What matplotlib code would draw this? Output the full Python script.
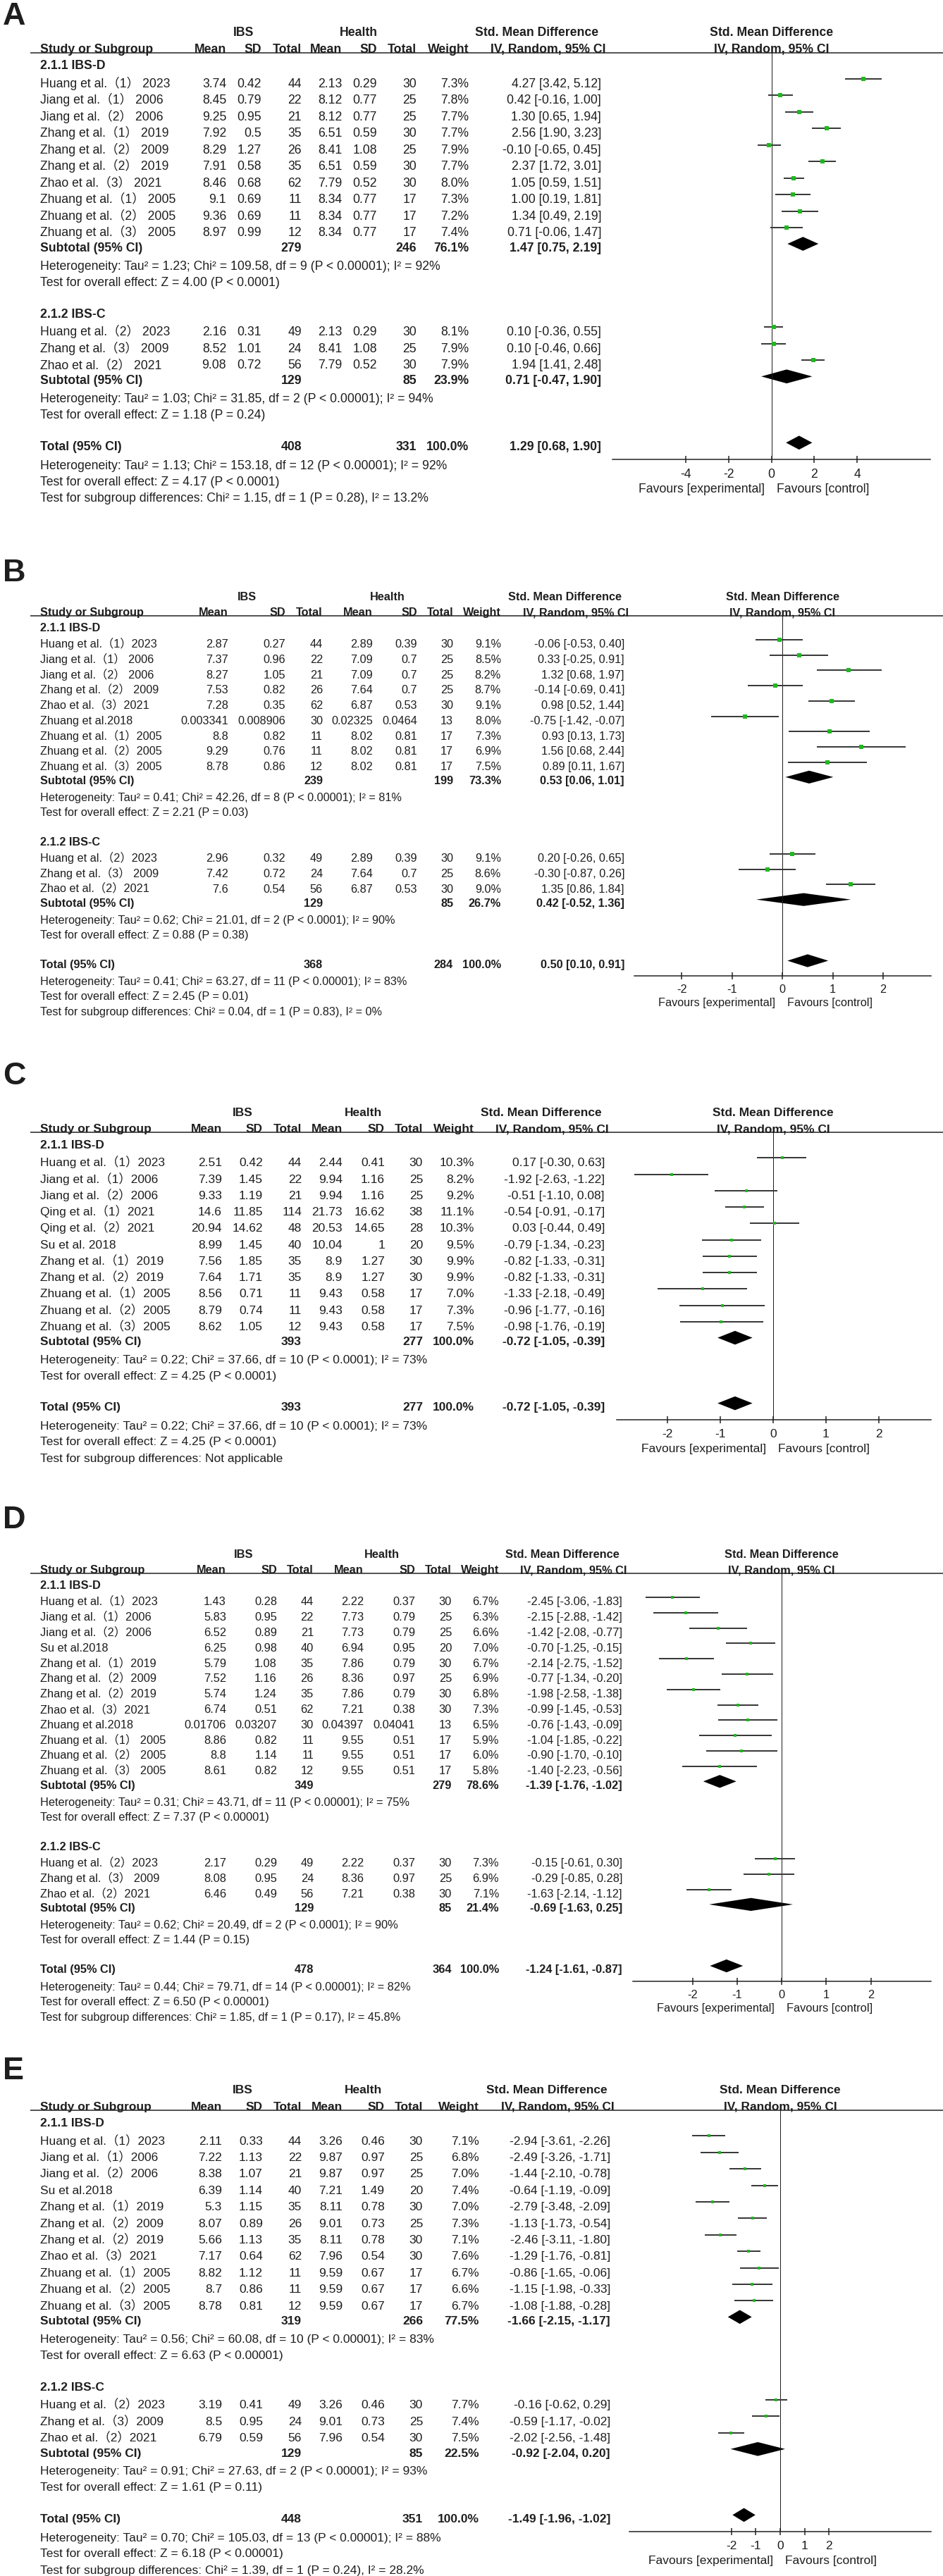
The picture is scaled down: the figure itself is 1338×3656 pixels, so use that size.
import matplotlib
matplotlib.use('Agg')
import matplotlib.pyplot as plt

# Liberation Sans has Arial's metrics; the CJK family supplies the full-width brackets
plt.rcParams['font.family'] = ['Liberation Sans', 'Noto Sans CJK SC', 'DejaVu Sans']

W, H = 1338, 3656
PT = 0.72            # points per pixel at dpi 100
INK = '#1e1e1e'
GREEN = '#20b820'

# ------------------- Panel A ------------------- #
A_study = ["Huang et al.（1） 2023", "Jiang et al.（1） 2006", "Jiang et al.（2） 2006",
           "Zhang et al.（1） 2019", "Zhang et al.（2） 2009", "Zhang et al.（2） 2019",
           "Zhao et al.（3） 2021", "Zhuang et al.（1） 2005", "Zhuang et al.（2） 2005",
           "Zhuang et al.（3） 2005",
           "Huang et al.（2） 2023", "Zhang et al.（3） 2009", "Zhao et al.（2） 2021"]
A_ibs_mean = [3.74, 8.45, 9.25, 7.92, 8.29, 7.91, 8.46, 9.1, 9.36, 8.97, 2.16, 8.52, 9.08]
A_ibs_sd = [0.42, 0.79, 0.95, 0.5, 1.27, 0.58, 0.68, 0.69, 0.69, 0.99, 0.31, 1.01, 0.72]
A_ibs_n = [44, 22, 21, 35, 26, 35, 62, 11, 11, 12, 49, 24, 56]
A_hc_mean = [2.13, 8.12, 8.12, 6.51, 8.41, 6.51, 7.79, 8.34, 8.34, 8.34, 2.13, 8.41, 7.79]
A_hc_sd = [0.29, 0.77, 0.77, 0.59, 1.08, 0.59, 0.52, 0.77, 0.77, 0.77, 0.29, 1.08, 0.52]
A_hc_n = [30, 25, 25, 30, 25, 30, 30, 17, 17, 17, 30, 25, 30]
A_weight = [7.3, 7.8, 7.7, 7.7, 7.9, 7.7, 8.0, 7.3, 7.2, 7.4, 8.1, 7.9, 7.9]
A_smd = [4.27, 0.42, 1.30, 2.56, -0.10, 2.37, 1.05, 1.00, 1.34, 0.71, 0.10, 0.10, 1.94]
A_lo = [3.42, -0.16, 0.65, 1.90, -0.65, 1.72, 0.59, 0.19, 0.49, -0.06, -0.36, -0.46, 1.41]
A_hi = [5.12, 1.00, 1.94, 3.23, 0.45, 3.01, 1.51, 1.81, 2.19, 1.47, 0.55, 0.66, 2.48]
A_groups = ["2.1.1 IBS-D", "2.1.2 IBS-C"]
A_group_size = [10, 3]
A_sub_ibs_n = [279, 129]
A_sub_hc_n = [246, 85]
A_sub_weight = [76.1, 23.9]
A_sub_smd = [1.47, 0.71]
A_sub_lo = [0.75, -0.47]
A_sub_hi = [2.19, 1.90]
A_sub_notes = [["Heterogeneity: Tau² = 1.23; Chi² = 109.58, df = 9 (P < 0.00001); I² = 92%",
                "Test for overall effect: Z = 4.00 (P < 0.0001)"],
               ["Heterogeneity: Tau² = 1.03; Chi² = 31.85, df = 2 (P < 0.00001); I² = 94%",
                "Test for overall effect: Z = 1.18 (P = 0.24)"]]
A_total = [408, 331, 100.0, 1.29, 0.68, 1.90]
A_total_notes = ["Heterogeneity: Tau² = 1.13; Chi² = 153.18, df = 12 (P < 0.00001); I² = 92%",
                 "Test for overall effect: Z = 4.17 (P < 0.0001)",
                 "Test for subgroup differences: Chi² = 1.15, df = 1 (P = 0.28), I² = 13.2%"]
A_ticks = [-4, -2, 0, 2, 4]

# ------------------- Panel B ------------------- #
B_study = ["Huang et al.（1）2023", "Jiang et al.（1） 2006", "Jiang et al.（2） 2006",
           "Zhang et al.（2） 2009", "Zhao et al.（3）2021", "Zhuang et al.2018",
           "Zhuang et al.（1）2005", "Zhuang et al.（2）2005", "Zhuang et al.（3）2005",
           "Huang et al.（2）2023", "Zhang et al.（3） 2009", "Zhao et al.（2）2021"]
B_ibs_mean = [2.87, 7.37, 8.27, 7.53, 7.28, 0.003341, 8.8, 9.29, 8.78, 2.96, 7.42, 7.6]
B_ibs_sd = [0.27, 0.96, 1.05, 0.82, 0.35, 0.008906, 0.82, 0.76, 0.86, 0.32, 0.72, 0.54]
B_ibs_n = [44, 22, 21, 26, 62, 30, 11, 11, 12, 49, 24, 56]
B_hc_mean = [2.89, 7.09, 7.09, 7.64, 6.87, 0.02325, 8.02, 8.02, 8.02, 2.89, 7.64, 6.87]
B_hc_sd = [0.39, 0.7, 0.7, 0.7, 0.53, 0.0464, 0.81, 0.81, 0.81, 0.39, 0.7, 0.53]
B_hc_n = [30, 25, 25, 25, 30, 13, 17, 17, 17, 30, 25, 30]
B_weight = [9.1, 8.5, 8.2, 8.7, 9.1, 8.0, 7.3, 6.9, 7.5, 9.1, 8.6, 9.0]
B_smd = [-0.06, 0.33, 1.32, -0.14, 0.98, -0.75, 0.93, 1.56, 0.89, 0.20, -0.30, 1.35]
B_lo = [-0.53, -0.25, 0.68, -0.69, 0.52, -1.42, 0.13, 0.68, 0.11, -0.26, -0.87, 0.86]
B_hi = [0.40, 0.91, 1.97, 0.41, 1.44, -0.07, 1.73, 2.44, 1.67, 0.65, 0.26, 1.84]
B_groups = ["2.1.1 IBS-D", "2.1.2 IBS-C"]
B_group_size = [9, 3]
B_sub_ibs_n = [239, 129]
B_sub_hc_n = [199, 85]
B_sub_weight = [73.3, 26.7]
B_sub_smd = [0.53, 0.42]
B_sub_lo = [0.06, -0.52]
B_sub_hi = [1.01, 1.36]
B_sub_notes = [["Heterogeneity: Tau² = 0.41; Chi² = 42.26, df = 8 (P < 0.00001); I² = 81%",
                "Test for overall effect: Z = 2.21 (P = 0.03)"],
               ["Heterogeneity: Tau² = 0.62; Chi² = 21.01, df = 2 (P < 0.0001); I² = 90%",
                "Test for overall effect: Z = 0.88 (P = 0.38)"]]
B_total = [368, 284, 100.0, 0.50, 0.10, 0.91]
B_total_notes = ["Heterogeneity: Tau² = 0.41; Chi² = 63.27, df = 11 (P < 0.00001); I² = 83%",
                 "Test for overall effect: Z = 2.45 (P = 0.01)",
                 "Test for subgroup differences: Chi² = 0.04, df = 1 (P = 0.83), I² = 0%"]
B_ticks = [-2, -1, 0, 1, 2]

# ------------------- Panel C ------------------- #
C_study = ["Huang et al.（1）2023", "Jiang et al.（1）2006", "Jiang et al.（2）2006",
           "Qing et al.（1）2021", "Qing et al.（2）2021", "Su et al. 2018",
           "Zhang et al.（1）2019", "Zhang et al.（2）2019", "Zhuang et al.（1）2005",
           "Zhuang et al.（2）2005", "Zhuang et al.（3）2005"]
C_ibs_mean = [2.51, 7.39, 9.33, 14.6, 20.94, 8.99, 7.56, 7.64, 8.56, 8.79, 8.62]
C_ibs_sd = [0.42, 1.45, 1.19, 11.85, 14.62, 1.45, 1.85, 1.71, 0.71, 0.74, 1.05]
C_ibs_n = [44, 22, 21, 114, 48, 40, 35, 35, 11, 11, 12]
C_hc_mean = [2.44, 9.94, 9.94, 21.73, 20.53, 10.04, 8.9, 8.9, 9.43, 9.43, 9.43]
C_hc_sd = [0.41, 1.16, 1.16, 16.62, 14.65, 1, 1.27, 1.27, 0.58, 0.58, 0.58]
C_hc_n = [30, 25, 25, 38, 28, 20, 30, 30, 17, 17, 17]
C_weight = [10.3, 8.2, 9.2, 11.1, 10.3, 9.5, 9.9, 9.9, 7.0, 7.3, 7.5]
C_smd = [0.17, -1.92, -0.51, -0.54, 0.03, -0.79, -0.82, -0.82, -1.33, -0.96, -0.98]
C_lo = [-0.30, -2.63, -1.10, -0.91, -0.44, -1.34, -1.33, -1.33, -2.18, -1.77, -1.76]
C_hi = [0.63, -1.22, 0.08, -0.17, 0.49, -0.23, -0.31, -0.31, -0.49, -0.16, -0.19]
C_groups = ["2.1.1 IBS-D"]
C_group_size = [11]
C_sub_ibs_n = [393]
C_sub_hc_n = [277]
C_sub_weight = [100.0]
C_sub_smd = [-0.72]
C_sub_lo = [-1.05]
C_sub_hi = [-0.39]
C_sub_notes = [["Heterogeneity: Tau² = 0.22; Chi² = 37.66, df = 10 (P < 0.0001); I² = 73%",
                "Test for overall effect: Z = 4.25 (P < 0.0001)"]]
C_total = [393, 277, 100.0, -0.72, -1.05, -0.39]
C_total_notes = ["Heterogeneity: Tau² = 0.22; Chi² = 37.66, df = 10 (P < 0.0001); I² = 73%",
                 "Test for overall effect: Z = 4.25 (P < 0.0001)",
                 "Test for subgroup differences: Not applicable"]
C_ticks = [-2, -1, 0, 1, 2]

# ------------------- Panel D ------------------- #
D_study = ["Huang et al.（1）2023", "Jiang et al.（1）2006", "Jiang et al.（2）2006",
           "Su et al.2018", "Zhang et al.（1）2019", "Zhang et al.（2）2009",
           "Zhang et al.（2）2019", "Zhao et al.（3）2021", "Zhuang et al.2018",
           "Zhuang et al.（1） 2005", "Zhuang et al.（2） 2005", "Zhuang et al.（3） 2005",
           "Huang et al.（2）2023", "Zhang et al.（3） 2009", "Zhao et al.（2）2021"]
D_ibs_mean = [1.43, 5.83, 6.52, 6.25, 5.79, 7.52, 5.74, 6.74, 0.01706, 8.86, 8.8, 8.61,
              2.17, 8.08, 6.46]
D_ibs_sd = [0.28, 0.95, 0.89, 0.98, 1.08, 1.16, 1.24, 0.51, 0.03207, 0.82, 1.14, 0.82,
            0.29, 0.95, 0.49]
D_ibs_n = [44, 22, 21, 40, 35, 26, 35, 62, 30, 11, 11, 12, 49, 24, 56]
D_hc_mean = [2.22, 7.73, 7.73, 6.94, 7.86, 8.36, 7.86, 7.21, 0.04397, 9.55, 9.55, 9.55,
             2.22, 8.36, 7.21]
D_hc_sd = [0.37, 0.79, 0.79, 0.95, 0.79, 0.97, 0.79, 0.38, 0.04041, 0.51, 0.51, 0.51,
           0.37, 0.97, 0.38]
D_hc_n = [30, 25, 25, 20, 30, 25, 30, 30, 13, 17, 17, 17, 30, 25, 30]
D_weight = [6.7, 6.3, 6.6, 7.0, 6.7, 6.9, 6.8, 7.3, 6.5, 5.9, 6.0, 5.8, 7.3, 6.9, 7.1]
D_smd = [-2.45, -2.15, -1.42, -0.70, -2.14, -0.77, -1.98, -0.99, -0.76, -1.04, -0.90,
         -1.40, -0.15, -0.29, -1.63]
D_lo = [-3.06, -2.88, -2.08, -1.25, -2.75, -1.34, -2.58, -1.45, -1.43, -1.85, -1.70,
        -2.23, -0.61, -0.85, -2.14]
D_hi = [-1.83, -1.42, -0.77, -0.15, -1.52, -0.20, -1.38, -0.53, -0.09, -0.22, -0.10,
        -0.56, 0.30, 0.28, -1.12]
D_groups = ["2.1.1 IBS-D", "2.1.2 IBS-C"]
D_group_size = [12, 3]
D_sub_ibs_n = [349, 129]
D_sub_hc_n = [279, 85]
D_sub_weight = [78.6, 21.4]
D_sub_smd = [-1.39, -0.69]
D_sub_lo = [-1.76, -1.63]
D_sub_hi = [-1.02, 0.25]
D_sub_notes = [["Heterogeneity: Tau² = 0.31; Chi² = 43.71, df = 11 (P < 0.00001); I² = 75%",
                "Test for overall effect: Z = 7.37 (P < 0.00001)"],
               ["Heterogeneity: Tau² = 0.62; Chi² = 20.49, df = 2 (P < 0.0001); I² = 90%",
                "Test for overall effect: Z = 1.44 (P = 0.15)"]]
D_total = [478, 364, 100.0, -1.24, -1.61, -0.87]
D_total_notes = ["Heterogeneity: Tau² = 0.44; Chi² = 79.71, df = 14 (P < 0.00001); I² = 82%",
                 "Test for overall effect: Z = 6.50 (P < 0.00001)",
                 "Test for subgroup differences: Chi² = 1.85, df = 1 (P = 0.17), I² = 45.8%"]
D_ticks = [-2, -1, 0, 1, 2]

# ------------------- Panel E ------------------- #
E_study = ["Huang et al.（1）2023", "Jiang et al.（1）2006", "Jiang et al.（2）2006",
           "Su et al.2018", "Zhang et al.（1）2019", "Zhang et al.（2）2009",
           "Zhang et al.（2）2019", "Zhao et al.（3）2021", "Zhuang et al.（1）2005",
           "Zhuang et al.（2）2005", "Zhuang et al.（3）2005",
           "Huang et al.（2）2023", "Zhang et al.（3）2009", "Zhao et al.（2）2021"]
E_ibs_mean = [2.11, 7.22, 8.38, 6.39, 5.3, 8.07, 5.66, 7.17, 8.82, 8.7, 8.78, 3.19, 8.5, 6.79]
E_ibs_sd = [0.33, 1.13, 1.07, 1.14, 1.15, 0.89, 1.13, 0.64, 1.12, 0.86, 0.81, 0.41, 0.95, 0.59]
E_ibs_n = [44, 22, 21, 40, 35, 26, 35, 62, 11, 11, 12, 49, 24, 56]
E_hc_mean = [3.26, 9.87, 9.87, 7.21, 8.11, 9.01, 8.11, 7.96, 9.59, 9.59, 9.59, 3.26, 9.01, 7.96]
E_hc_sd = [0.46, 0.97, 0.97, 1.49, 0.78, 0.73, 0.78, 0.54, 0.67, 0.67, 0.67, 0.46, 0.73, 0.54]
E_hc_n = [30, 25, 25, 20, 30, 25, 30, 30, 17, 17, 17, 30, 25, 30]
E_weight = [7.1, 6.8, 7.0, 7.4, 7.0, 7.3, 7.1, 7.6, 6.7, 6.6, 6.7, 7.7, 7.4, 7.5]
E_smd = [-2.94, -2.49, -1.44, -0.64, -2.79, -1.13, -2.46, -1.29, -0.86, -1.15, -1.08,
         -0.16, -0.59, -2.02]
E_lo = [-3.61, -3.26, -2.10, -1.19, -3.48, -1.73, -3.11, -1.76, -1.65, -1.98, -1.88,
        -0.62, -1.17, -2.56]
E_hi = [-2.26, -1.71, -0.78, -0.09, -2.09, -0.54, -1.80, -0.81, -0.06, -0.33, -0.28,
        0.29, -0.02, -1.48]
E_groups = ["2.1.1 IBS-D", "2.1.2 IBS-C"]
E_group_size = [11, 3]
E_sub_ibs_n = [319, 129]
E_sub_hc_n = [266, 85]
E_sub_weight = [77.5, 22.5]
E_sub_smd = [-1.66, -0.92]
E_sub_lo = [-2.15, -2.04]
E_sub_hi = [-1.17, 0.20]
E_sub_notes = [["Heterogeneity: Tau² = 0.56; Chi² = 60.08, df = 10 (P < 0.00001); I² = 83%",
                "Test for overall effect: Z = 6.63 (P < 0.00001)"],
               ["Heterogeneity: Tau² = 0.91; Chi² = 27.63, df = 2 (P < 0.00001); I² = 93%",
                "Test for overall effect: Z = 1.61 (P = 0.11)"]]
E_total = [448, 351, 100.0, -1.49, -1.96, -1.02]
E_total_notes = ["Heterogeneity: Tau² = 0.70; Chi² = 105.03, df = 13 (P < 0.00001); I² = 88%",
                 "Test for overall effect: Z = 6.18 (P < 0.00001)",
                 "Test for subgroup differences: Chi² = 1.39, df = 1 (P = 0.24), I² = 28.2%"]
E_ticks = [-2, -1, 0, 1, 2]

# ------------------- Layout of each pasted panel (pixels) ------------------- #
# label: centre y of the letter, top: y of first subgroup heading, s: row pitch, fs: font px
# cols: right edges of Mean SD Total Mean SD Total Weight, ci: right edge of CI text
LAYOUT = {
    'A': dict(label=19, top=92, s=23.5, fs=17.6, cols=[321, 371, 428, 485, 535, 591, 665],
              ci=853, ibs=346, hc=509, ax=(869, 1320), xlim=(-7.4, 7.4), sq=6),
    'B': dict(label=809, top=890, s=21.7, fs=16.3, cols=[324, 405, 458, 529, 592, 643, 711],
              ci=886, ibs=350, hc=550, ax=(900, 1321), xlim=(-2.94, 2.95), sq=5.5),
    'C': dict(label=1523, top=1624, s=23.25, fs=17.4, cols=[315, 373, 428, 486, 546, 600, 673],
              ci=858, ibs=344, hc=515, ax=(875, 1321), xlim=(-2.96, 2.99), sq=5),
    'D': dict(label=2153, top=2249, s=21.8, fs=16.4, cols=[321, 393, 445, 516, 589, 641, 708],
              ci=883, ibs=346, hc=542, ax=(898, 1321), xlim=(-3.34, 3.35), sq=4.5),
    'E': dict(label=2935, top=3012, s=23.4, fs=17.4, cols=[315, 373, 428, 486, 546, 600, 680],
              ci=866, ibs=344, hc=515, ax=(893, 1321), xlim=(-6.2, 6.2), sq=4.5),
}


def row_positions(top, s, sizes):
    """y of every table line from the number of studies in each subgroup."""
    groups = []
    cur = top
    for g, n in enumerate(sizes):
        if g > 0:
            cur += 1.92 * s
        head = cur
        first = cur + 1.08 * s
        studies = [first + k * s for k in range(n)]
        sub = studies[-1] + 0.93 * s
        het = sub + 1.1 * s
        z = het + 0.98 * s
        groups.append((head, studies, sub, het, z))
        cur = z
    total = cur + 1.92 * s
    notes = [total + 1.12 * s, total + 2.1 * s, total + 3.1 * s]
    return groups, total, notes


fig = plt.figure(figsize=(W / 100, H / 100), dpi=100)
bg = fig.add_axes([0, 0, 1, 1])
bg.set_xlim(0, W)
bg.set_ylim(H, 0)
bg.axis('off')


def draw_panel(letter, L):
    g = globals()
    study = g[letter + '_study']
    cols_data = [g[letter + k] for k in ('_ibs_mean', '_ibs_sd', '_ibs_n',
                                         '_hc_mean', '_hc_sd', '_hc_n')]
    weight, smd, lo, hi = (g[letter + k] for k in ('_weight', '_smd', '_lo', '_hi'))
    sizes = g[letter + '_group_size']
    s, fpx = L['s'], L['fs']
    fs = fpx * PT
    off = 0.36 * fpx
    cols, ci = L['cols'], L['ci']

    def put(x, y, txt, ha='left', bold=False, size=fs):
        bg.text(x, y + off * size / fs, txt, ha=ha, va='baseline', fontsize=size,
                fontweight='bold' if bold else 'normal', color=INK)

    groups, total_y, note_y = row_positions(L['top'], s, sizes)
    line_y = L['top'] - 0.72 * s
    axis_y = total_y + 0.8 * s

    # panel letter
    put(4, L['label'], letter, bold=True, size=45 * PT)

    # forest axes: x in SMD units, y in the same pixel rows as the table
    x0, x1 = L['ax']
    ax = fig.add_axes([x0 / W, 1 - axis_y / H, (x1 - x0) / W, (axis_y - line_y) / H])
    ax.set_xlim(*L['xlim'])
    ax.set_ylim(axis_y, line_y)
    zero_px = x0 + (0 - L['xlim'][0]) / (L['xlim'][1] - L['xlim'][0]) * (x1 - x0)

    # column headers
    h1, h2 = L['top'] - 2.0 * s, L['top'] - 1.0 * s
    put(L['ibs'], h1, "IBS", ha='center', bold=True)
    put(L['hc'], h1, "Health", ha='center', bold=True)
    put(57, h2, "Study or Subgroup", bold=True)
    for x, t in zip(cols, ["Mean", "SD", "Total", "Mean", "SD", "Total", "Weight"]):
        put(x, h2, t, ha='right', bold=True)
    put(ci - 4, h1, "Std. Mean Difference", ha='right', bold=True)
    put(ci + 6, h2, "IV, Random, 95% CI", ha='right', bold=True)
    put(zero_px, h1, "Std. Mean Difference", ha='center', bold=True)
    put(zero_px, h2, "IV, Random, 95% CI", ha='center', bold=True)
    bg.plot([43, W], [line_y, line_y], color=INK, lw=1.5 * PT, solid_capstyle='butt')

    ax.patch.set_alpha(0)
    for side in ('top', 'left', 'right'):
        ax.spines[side].set_visible(False)
    ax.spines['bottom'].set_linewidth(1.5 * PT)
    ax.spines['bottom'].set_color(INK)
    ax.set_yticks([])
    ticks = g[letter + '_ticks']
    ax.set_xticks(ticks)
    ax.set_xticklabels([f"{t:g}" for t in ticks])
    ax.tick_params(axis='x', direction='inout', length=10 * PT, width=1.5 * PT,
                   labelsize=fs, colors=INK,
                   pad=max(0.82 * s - 0.36 * fpx - 5, 1) * PT)
    ax.axvline(0, color=INK, lw=1.0 * PT)

    dy = 0.25 * s      # marks sit a little above the text middle
    half = 0.42 * s    # diamond half height
    i = 0
    for gi, (head, rows, sub, het, z) in enumerate(groups):
        put(57, head, g[letter + '_groups'][gi], bold=True)
        for y in rows:
            put(57, y, study[i])
            for x, col in zip(cols[:6], cols_data):
                put(x, y, f"{col[i]:g}", ha='right')
            put(cols[6], y, f"{weight[i]:.1f}%", ha='right')
            put(ci, y, f"{smd[i]:.2f} [{lo[i]:.2f}, {hi[i]:.2f}]", ha='right')
            ax.plot([lo[i], hi[i]], [y - dy, y - dy], color='#3a3a3a', lw=2 * PT,
                    solid_capstyle='butt')
            ax.plot([smd[i]], [y - dy], marker='s', ms=L['sq'] * PT, color=GREEN, mew=0)
            i += 1
        put(57, sub, "Subtotal (95% CI)", bold=True)
        put(cols[2], sub, f"{g[letter + '_sub_ibs_n'][gi]}", ha='right', bold=True)
        put(cols[5], sub, f"{g[letter + '_sub_hc_n'][gi]}", ha='right', bold=True)
        put(cols[6], sub, f"{g[letter + '_sub_weight'][gi]:.1f}%", ha='right', bold=True)
        e, l, h = (g[letter + k][gi] for k in ('_sub_smd', '_sub_lo', '_sub_hi'))
        put(ci, sub, f"{e:.2f} [{l:.2f}, {h:.2f}]", ha='right', bold=True)
        yc = sub - 0.2 * s
        ax.fill([l, e, h, e], [yc, yc - half, yc, yc + half], color='black', lw=0)
        put(57, het, g[letter + '_sub_notes'][gi][0])
        put(57, z, g[letter + '_sub_notes'][gi][1])

    n1, n2, w, e, l, h = g[letter + '_total']
    put(57, total_y, "Total (95% CI)", bold=True)
    put(cols[2], total_y, f"{n1}", ha='right', bold=True)
    put(cols[5], total_y, f"{n2}", ha='right', bold=True)
    put(cols[6], total_y, f"{w:.1f}%", ha='right', bold=True)
    put(ci, total_y, f"{e:.2f} [{l:.2f}, {h:.2f}]", ha='right', bold=True)
    yc = total_y - 0.2 * s
    ax.fill([l, e, h, e], [yc, yc - half, yc, yc + half], color='black', lw=0)
    for y, t in zip(note_y, g[letter + '_total_notes']):
        put(57, y, t)

    fav_y = axis_y + 1.72 * s
    put(zero_px - 10, fav_y, "Favours [experimental]", ha='right')
    put(zero_px + 7, fav_y, "Favours [control]")


for key in ['A', 'B', 'C', 'D', 'E']:
    draw_panel(key, LAYOUT[key])

fig.savefig('out.png', dpi=100)
